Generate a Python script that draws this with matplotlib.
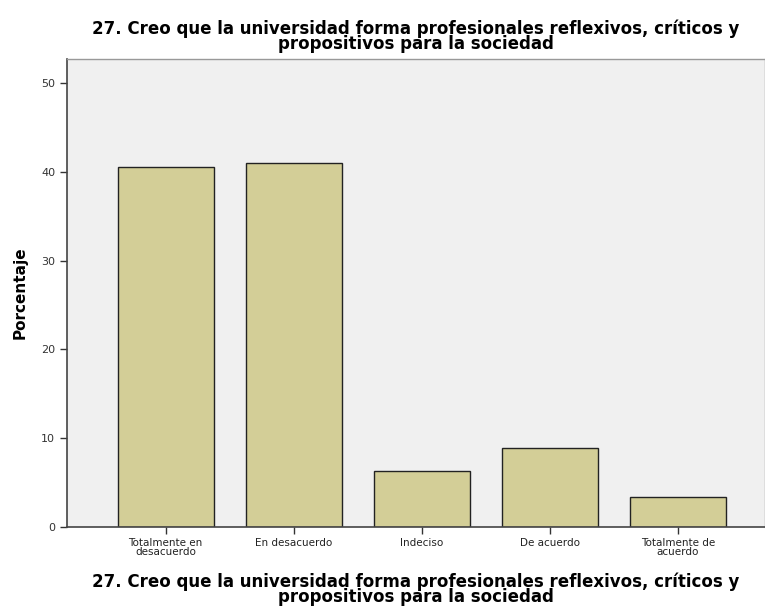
import matplotlib.pyplot as plt
import numpy as np

# datos
categorias = ['Totalmente en\ndesacuerdo', 'En desacuerdo', 'Indeciso',
              'De acuerdo', 'Totalmente de\nacuerdo']
porcentajes = [40.5, 41.0, 6.3, 8.9, 3.4]
yticks = [0, 10, 20, 30, 40, 50]
titulo = '27. Creo que la universidad forma profesionales reflexivos, críticos y\npropositivos para la sociedad'

fig = plt.figure(figsize=(7.65, 6.14), dpi=100)
ax = fig.add_axes([67 / 765, 1 - 527 / 614, 698 / 765, 468 / 614])
ax.set_facecolor('#f0f0f0')

x = np.arange(len(categorias))
ax.bar(x, porcentajes, width=0.75, color='#d3ce97', edgecolor='#222222', linewidth=1.0, zorder=2)

ax.set_xlim(-0.77, 4.68)
ax.set_ylim(0, 52.7)
ax.set_yticks(yticks)
ax.set_xticks(x)
ax.set_xticklabels(categorias, fontsize=7.5, linespacing=0.9)
ax.tick_params(axis='y', labelsize=8, length=5, width=1, color='#333333', labelcolor='#333333')
ax.tick_params(axis='x', length=5, width=1, color='#333333', labelcolor='#222222', pad=3)

for s in ['left', 'bottom']:
    ax.spines[s].set_color('#444444')
    ax.spines[s].set_linewidth(1.2)
for s in ['top', 'right']:
    ax.spines[s].set_color('#999999')
    ax.spines[s].set_linewidth(1.0)

ax.set_ylabel('Porcentaje', fontsize=11, fontweight='bold', labelpad=10)
ax.set_xlabel(titulo, fontsize=12, fontweight='bold', linespacing=0.8, labelpad=11)
ax.set_title(titulo, fontsize=12, fontweight='bold', linespacing=0.8, pad=7)

fig.savefig('out.png', dpi=100)
